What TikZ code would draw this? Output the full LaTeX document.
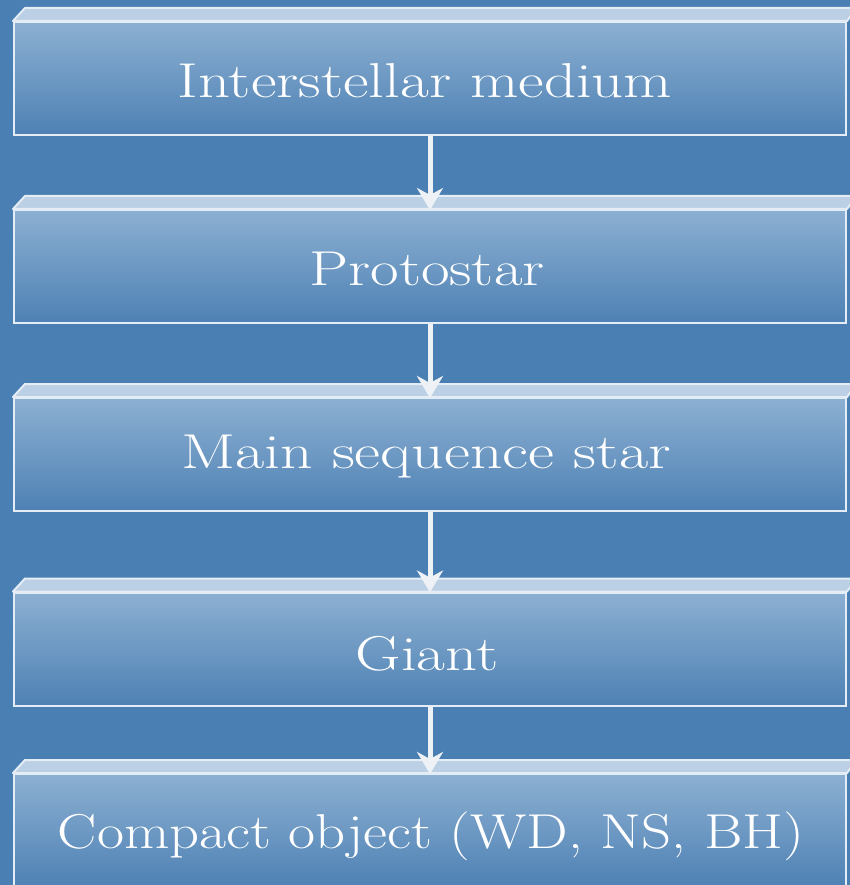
\documentclass[tikz,border=0pt]{standalone}
\usepackage{graphicx}
\usetikzlibrary{arrows.meta,calc}
\definecolor{bgblue}{HTML}{4A7FB3}
\definecolor{facetop}{HTML}{8CB0D2}
\definecolor{facebot}{HTML}{4E81B4}
\definecolor{bevel}{HTML}{BBD0E4}
\definecolor{edge}{HTML}{E4ECF5}
\definecolor{arrowc}{HTML}{EEF1F6}
% widened label: #1 horizontal scale, #2 drop below centre, #3 text
\newcommand{\wide}[3]{\raisebox{-#2pt}[\height][\depth]{\scalebox{#1}[1]{#3}}}
\tikzset{
  stage/.style={draw=edge, line width=2pt, top color=facetop, bottom color=facebot,
    minimum width=832pt, minimum height=113pt, inner sep=0pt,
    text=white, font=\fontsize{49}{58}\selectfont},
  lid/.style={fill=bevel, draw=edge, line width=2pt, line join=round},
  flow/.style={draw=arrowc, line width=5pt,
    -{Stealth[length=22pt,width=26pt,inset=7pt]}}
}
\newcommand{\lidon}[1]{%
  \draw[lid] (#1.north west) -- ++(12,-13) -- ++(832,0) -- (#1.north east) -- cycle;}
\begin{document}
\begin{tikzpicture}[x=1pt,y=-1pt]
  \fill[bgblue] (0,0) rectangle (850,885);
  \useasboundingbox (0,0) rectangle (850,885);
  \begin{scope}
    \clip (0,0) rectangle (850,885);
    \node[stage] (s1) at (430,78.5)  {\hspace*{-10pt}\wide{1.28}{2}{Interstellar medium}};
    \node[stage] (s2) at (430,266.5) {\hspace*{-6pt}\wide{1.27}{2}{Protostar}};
    \node[stage] (s3) at (430,454.5) {\hspace*{-8pt}\wide{1.30}{2}{Main sequence star}};
    \node[stage] (s4) at (430,649)   {\hspace*{-6pt}\wide{1.28}{5}{Giant}};
    \node[stage] (s5) at (430,830.5) {\hspace*{2pt}\wide{1.20}{6}{Compact object (WD, NS, BH)}};
    \foreach \n in {s1,s2,s3,s4,s5} {\lidon{\n}}
    \draw[flow] (s1.south) -- ($(s2.north)+(0,1)$);
    \draw[flow] (s2.south) -- ($(s3.north)+(0,1)$);
    \draw[flow] (s3.south) -- ($(s4.north)+(0,1)$);
    \draw[flow] (s4.south) -- ($(s5.north)+(0,1)$);
  \end{scope}
\end{tikzpicture}
\end{document}
